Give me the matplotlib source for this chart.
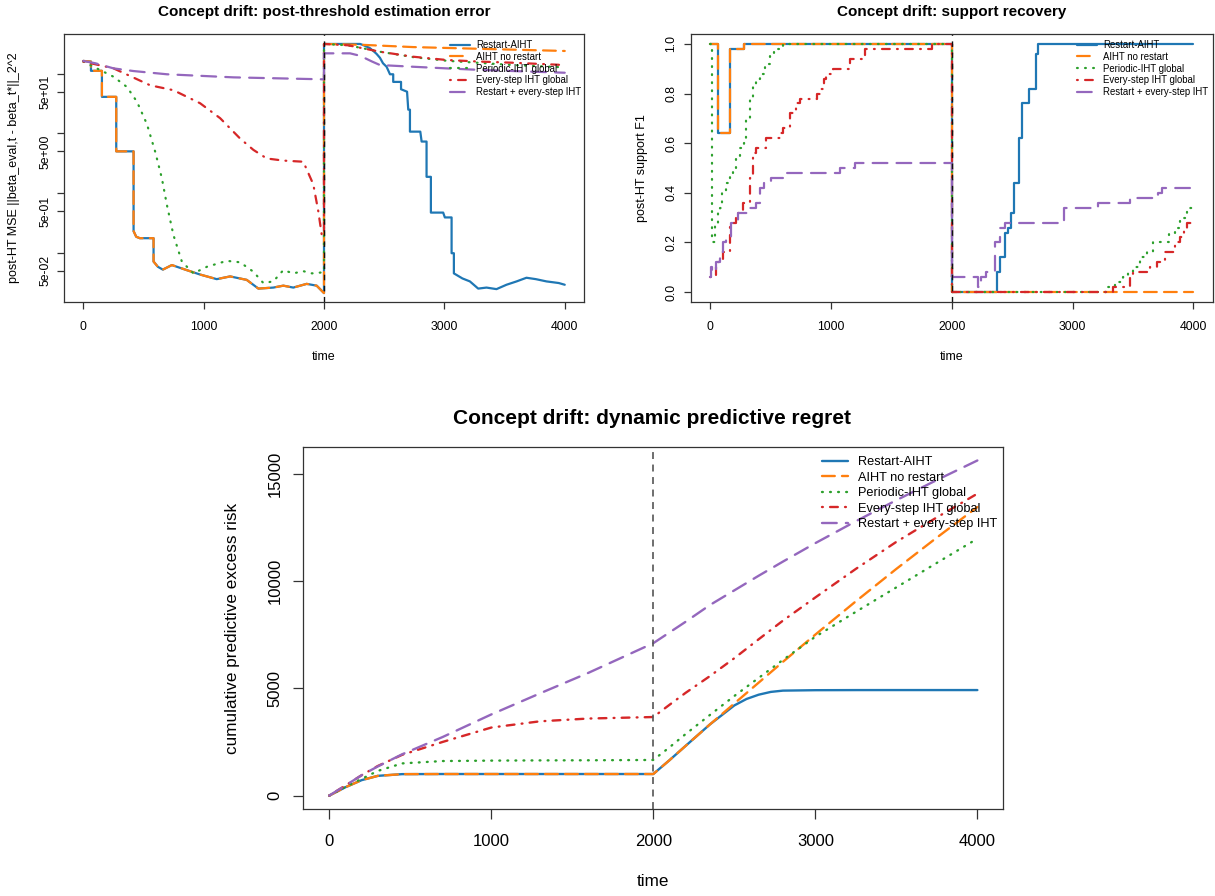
import matplotlib
matplotlib.use("Agg")
import matplotlib.pyplot as plt
from matplotlib.ticker import NullLocator

plt.rcParams['font.family'] = ['Liberation Sans', 'DejaVu Sans']
plt.rcParams['lines.scale_dashes'] = False

# ---- datos: error de estimación (escala log) ----
mse_aiht_t1 = [0, 64, 64, 155, 155, 274, 274, 418, 418, 440, 470, 584, 584, 620, 661, 736, 860, 971,
               1109, 1220, 1358, 1455, 1579, 1662, 1745, 1856, 1939, 2000]
mse_aiht_v1 = [164, 160, 112, 112, 41, 41, 5.0, 5.0, 0.23, 0.185, 0.175, 0.175, 0.071, 0.058, 0.052, 0.062,
               0.051, 0.043, 0.036, 0.040, 0.035, 0.025, 0.026, 0.028, 0.026, 0.030, 0.028, 0.021]
mse_restart_t2 = [2000, 2300, 2330, 2380, 2410, 2437, 2465, 2490, 2520, 2548, 2575, 2575, 2640, 2640, 2690,
                  2700, 2714, 2714, 2800, 2811, 2852, 2852, 2888, 2888, 2990, 3004, 3060, 3060, 3079, 3079,
                  3150, 3212, 3281, 3350, 3433, 3516, 3600, 3682, 3760, 3848, 3950, 4000]
mse_restart_v2 = [316, 316, 300, 270, 241, 215, 185, 150, 131, 98, 98, 73, 73, 55, 50,
                  25, 25, 10.7, 10.7, 7.3, 7.3, 1.87, 1.87, 0.47, 0.47, 0.39, 0.39, 0.098, 0.098, 0.045,
                  0.037, 0.033, 0.025, 0.026, 0.0245, 0.029, 0.033, 0.038, 0.036, 0.033, 0.031, 0.029]
mse_norestart_t2 = [2000, 2326, 2741, 3295, 4000]
mse_norestart_v2 = [316, 305, 280, 262, 241]
mse_periodic_t = [0, 113, 252, 363, 446, 529, 598, 653, 695, 749, 819, 915, 1027, 1193, 1303, 1413, 1496,
                  1579, 1662, 1745, 1828, 1900, 2000, 2000, 2200, 2465, 2741, 3020, 3295, 3570, 4000]
mse_periodic = [160, 123, 89, 60, 34, 14.3, 4.9, 1.77, 0.63, 0.198, 0.071, 0.045, 0.058, 0.073, 0.069, 0.048,
                0.031, 0.033, 0.051, 0.045, 0.049, 0.045, 0.047, 316, 300, 234, 190, 165, 152, 140, 128]
mse_everystep_t = [0, 252, 556, 749, 971, 1137, 1303, 1413, 1524, 1662, 1828, 1911, 1953, 1981, 2000,
                   2000, 2200, 2465, 2741, 3020, 3295, 3570, 4000]
mse_everystep = [160, 123, 64, 53, 32, 18, 8.2, 5.3, 3.8, 3.5, 3.35, 1.4, 0.49, 0.2, 0.2,
                 316, 300, 234, 193, 170, 160, 153, 140]
mse_resevery_t = [0, 100, 252, 418, 695, 1248, 2000, 2000, 2216, 2300, 2400, 2465, 2741, 3020, 3295, 4000]
mse_resevery = [164, 150, 123, 111, 98, 87, 80.6, 220, 220, 200, 160, 140, 131, 123, 116, 104]

# ---- datos: F1 del soporte (escalones) ----
f1_restart_t = [0, 63, 160, 276, 2000, 2371, 2399, 2440, 2468, 2490, 2518, 2557, 2579, 2639, 2695, 2717, 4000]
f1_restart = [1.0, 0.64, 0.98, 1.0, 0.0, 0.08, 0.14, 0.24, 0.26, 0.32, 0.44, 0.62, 0.76, 0.82, 0.96, 1.0, 1.0]
f1_norestart_t = [0, 63, 160, 276, 2000, 4000]
f1_norestart = [1.0, 0.64, 0.98, 1.0, 0.0, 0.0]
f1_periodic_t = [0, 17, 40, 60, 77, 100, 133, 160, 188, 215, 243, 276, 298, 330, 353, 380, 409, 450, 492,
                 530, 575, 602, 2000, 3297, 3352, 3421, 3460, 3504, 3560, 3615, 3670, 3800, 3850, 3891,
                 3947, 4000]
f1_periodic = [1.0, 0.2, 0.28, 0.32, 0.34, 0.4, 0.44, 0.48, 0.5, 0.54, 0.58, 0.6, 0.7, 0.78, 0.84, 0.86,
               0.88, 0.92, 0.96, 0.98, 0.99, 1.0, 0.0, 0.02, 0.04, 0.06, 0.08, 0.1, 0.14, 0.16, 0.2, 0.24,
               0.26, 0.3, 0.34, 0.34]
f1_everystep_t = [0, 50, 105, 160, 215, 271, 326, 353, 381, 464, 575, 602, 658, 713, 741, 880, 906, 940,
                  962, 1017, 1155, 1279, 1833, 2000, 3338, 3477, 3504, 3643, 3700, 3767, 3850, 3891, 3919,
                  3952, 4000]
f1_everystep = [0.06, 0.12, 0.16, 0.28, 0.32, 0.36, 0.46, 0.56, 0.58, 0.62, 0.64, 0.66, 0.72, 0.76, 0.78,
                0.8, 0.82, 0.86, 0.88, 0.9, 0.94, 0.98, 1.0, 0.0, 0.02, 0.06, 0.08, 0.1, 0.12, 0.16, 0.2,
                0.22, 0.26, 0.28, 0.28]
f1_resevery_t = [0, 8, 15, 50, 80, 105, 133, 174, 229, 312, 381, 409, 442, 506, 602, 1072, 1196, 2000,
                 2219, 2240, 2280, 2357, 2399, 2440, 2930, 3214, 3477, 3711, 3739, 4000]
f1_resevery = [0.06, 0.1, 0.08, 0.12, 0.16, 0.2, 0.22, 0.28, 0.32, 0.34, 0.36, 0.42, 0.44, 0.46, 0.48,
               0.5, 0.52, 0.06, 0.02, 0.06, 0.08, 0.2, 0.26, 0.28, 0.34, 0.36, 0.38, 0.4, 0.42, 0.42]

# ---- datos: regret acumulado ----
reg_t = [0, 100, 200, 300, 450, 700, 1000, 1300, 1600, 2000, 2100, 2200, 2350, 2500, 2575, 2650, 2725,
         2800, 3000, 3250, 3500, 3750, 4000]
reg_restart = [0, 390, 720, 920, 1000, 1005, 1005, 1005, 1005, 1005, 1650, 2320, 3320, 4200, 4500, 4700,
               4830, 4890, 4910, 4915, 4916, 4916, 4916]
reg_norestart = [0, 390, 720, 920, 1000, 1005, 1005, 1005, 1005, 1005, 1650, 2320, 3320, 4290, 4775, 5260,
                 5745, 6230, 7500, 9050, 10560, 12020, 13440]
reg_periodic = [0, 400, 780, 1150, 1500, 1610, 1630, 1640, 1645, 1660, 2250, 2870, 3760, 4640, 5060, 5480,
                5900, 6320, 7400, 8560, 9700, 10840, 11970]
reg_everystep = [0, 470, 950, 1380, 1900, 2500, 3170, 3460, 3590, 3660, 4230, 4790, 5570, 6400, 6840, 7280,
                 7715, 8150, 9230, 10560, 11820, 12960, 14065]
reg_resevery = [0, 470, 950, 1360, 1925, 2730, 3780, 4760, 5720, 7100, 7600, 8100, 8880, 9560, 9900, 10240,
                10570, 10900, 11760, 12780, 13760, 14700, 15610]

nombres = ["Restart-AIHT", "AIHT no restart", "Periodic-IHT global", "Every-step IHT global",
           "Restart + every-step IHT"]
colores = ["#1f77b4", "#ff7f0e", "#2ca02c", "#d62728", "#9467bd"]
estilos = ["-", (0, (9.2, 5.2)), (0, (0.6, 5.2)), (0, (0.6, 5.2, 5.6, 5.2)), (0, (10.6, 6.6))]

W, H = 1215, 896
fig = plt.figure(figsize=(W / 100, H / 100), dpi=100)


def caja(l, t, r, b):
    return [l / W, 1 - b / H, (r - l) / W, (b - t) / H]


def preparar(ax, fs, largo, pad_x, pad_y):
    ax.set_xlim(-160, 4160)
    ax.set_xticks([0, 1000, 2000, 3000, 4000])
    ax.tick_params(direction="out", length=largo, width=0.9, color="#333333", labelsize=fs)
    ax.tick_params(axis="x", pad=pad_x)
    ax.tick_params(axis="y", pad=pad_y, labelrotation=90)
    for s in ax.spines.values():
        s.set_color("#333333")
        s.set_linewidth(0.9)


def dibujar(ax, series, lw, pasos=False):
    for (t, v), c, ls, nom in zip(series, colores, estilos, nombres):
        ax.plot(t, v, color=c, lw=lw, linestyle=ls, label=nom,
                drawstyle="steps-post" if pasos else "default",
                solid_capstyle="round", dash_capstyle="round")


# panel 1: MSE
ax1 = fig.add_axes(caja(64, 34, 584, 302))
dibujar(ax1, [(mse_aiht_t1 + mse_restart_t2, mse_aiht_v1 + mse_restart_v2),
              (mse_aiht_t1 + mse_norestart_t2, mse_aiht_v1 + mse_norestart_v2),
              (mse_periodic_t, mse_periodic),
              (mse_everystep_t, mse_everystep),
              (mse_resevery_t, mse_resevery)], 1.6)
ax1.axvline(2000, color="#111111", lw=1.0, linestyle=(0, (4, 4)))
ax1.set_yscale("log")
ax1.set_ylim(0.0149, 464)
ax1.set_yticks([0.05, 0.1, 0.5, 1, 5, 10, 50, 100])
ax1.set_yticklabels(["5e-02", "", "5e-01", "", "5e+00", "", "5e+01", ""])
ax1.yaxis.set_minor_locator(NullLocator())
preparar(ax1, 8.8, 5, 8.5, 4.0)
ax1.legend(loc="upper left", bbox_to_anchor=(450 / W, 1 - 40 / H), bbox_transform=fig.transFigure,
           frameon=False, fontsize=6.9, handlelength=2.1, handletextpad=0.6, labelspacing=0.19,
           borderpad=0, borderaxespad=0)

# panel 2: F1
ax2 = fig.add_axes(caja(691, 34, 1212.6, 302))
dibujar(ax2, [(f1_restart_t, f1_restart), (f1_norestart_t, f1_norestart), (f1_periodic_t, f1_periodic),
              (f1_everystep_t, f1_everystep), (f1_resevery_t, f1_resevery)], 1.6, pasos=True)
ax2.axvline(2000, color="#111111", lw=1.0, linestyle=(0, (4, 4)))
ax2.set_ylim(-0.04, 1.04)
ax2.set_yticks([0, 0.2, 0.4, 0.6, 0.8, 1.0])
ax2.set_yticklabels(["0.0", "0.2", "0.4", "0.6", "0.8", "1.0"])
preparar(ax2, 8.8, 5, 8.5, 5.0)
ax2.legend(loc="upper left", bbox_to_anchor=(1077 / W, 1 - 40 / H), bbox_transform=fig.transFigure,
           frameon=False, fontsize=6.9, handlelength=2.1, handletextpad=0.6, labelspacing=0.19,
           borderpad=0, borderaxespad=0)

# panel 3: regret
ax3 = fig.add_axes(caja(303.3, 447.3, 1003.3, 809))
dibujar(ax3, [(reg_t, reg_restart), (reg_t, reg_norestart), (reg_t, reg_periodic),
              (reg_t, reg_everystep), (reg_t, reg_resevery)], 1.7)
ax3.axvline(2000, color="#555555", lw=1.2, linestyle=(0, (5, 4)))
ax3.set_ylim(-624, 16224)
ax3.set_yticks([0, 5000, 10000, 15000])
preparar(ax3, 12, 7, 10.8, 8.0)
ax3.legend(loc="upper left", bbox_to_anchor=(822 / W, 1 - 456 / H), bbox_transform=fig.transFigure,
           frameon=False, fontsize=9.2, handlelength=2.0, handletextpad=0.84, labelspacing=0.28,
           borderpad=0, borderaxespad=0)

for ax in (ax1, ax2, ax3):
    for lab in ax.get_yticklabels():
        lab.set_verticalalignment("center")

# textos
fig.text(324.5 / W, 1 - 12 / H, "Concept drift: post-threshold estimation error", ha="center", va="center",
         fontsize=11, fontweight="bold")
fig.text(952 / W, 1 - 12 / H, "Concept drift: support recovery", ha="center", va="center",
         fontsize=11, fontweight="bold")
fig.text(652 / W, 1 - 418 / H, "Concept drift: dynamic predictive regret", ha="center", va="center",
         fontsize=15, fontweight="bold")
fig.text(324 / W, 1 - 357 / H, "time", ha="center", va="center", fontsize=9)
fig.text(952 / W, 1 - 357 / H, "time", ha="center", va="center", fontsize=9)
fig.text(653 / W, 1 - 881 / H, "time", ha="center", va="center", fontsize=12.3)
fig.text(14 / W, 1 - 168 / H, "post-HT MSE ||beta_eval,t - beta_t*||_2^2", rotation=90, ha="center",
         va="center", fontsize=9)
fig.text(641.7 / W, 1 - 168 / H, "post-HT support F1", rotation=90, ha="center", va="center", fontsize=9)
fig.text(233 / W, 1 - 628 / H, "cumulative predictive excess risk", rotation=90, ha="center", va="center",
         fontsize=12.3)

fig.savefig("out.png", dpi=100)
